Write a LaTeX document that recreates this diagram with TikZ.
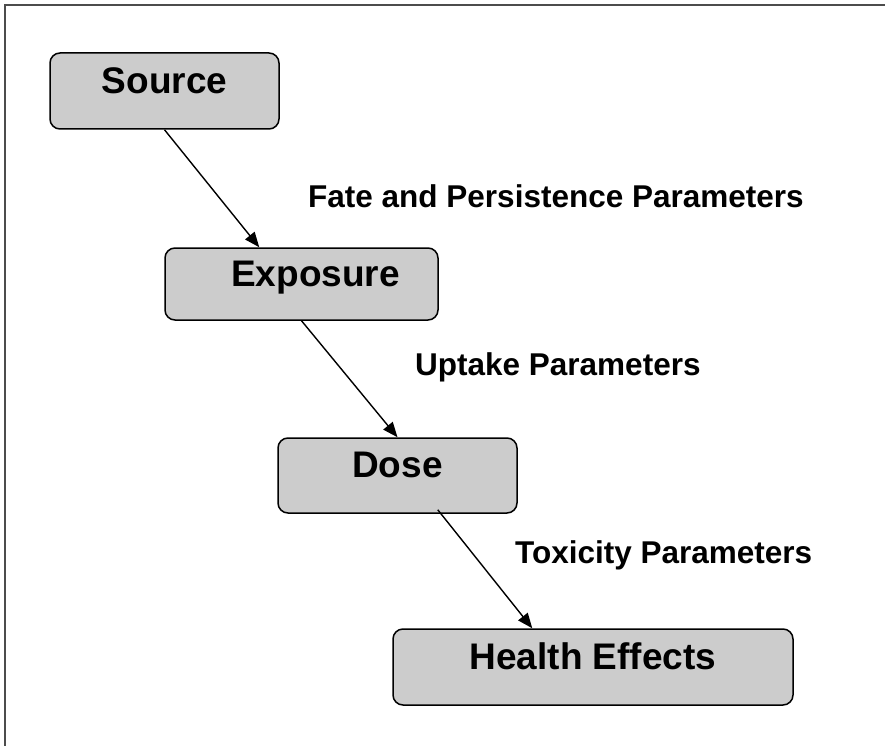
\documentclass[tikz,border=0pt]{standalone}
\usepackage{fontspec}
\setmainfont{Liberation Sans}
\usetikzlibrary{arrows.meta}
\tikzset{
  mbox/.style={rectangle, rounded corners=10pt, draw=black, fill=black!20,
               line width=1.5pt, inner sep=0pt, text height=27pt, text depth=22.5pt,
               font=\fontsize{37}{40}\selectfont\bfseries},
  lbl/.style={anchor=base west, inner sep=0pt,
              font=\fontsize{31.5}{34}\selectfont\bfseries},
  arr/.style={-{Triangle[length=15pt, width=12pt]}, line width=1.4pt},
}

\begin{document}
\begin{tikzpicture}[x=1pt, y=-1pt]
  \useasboundingbox (0,0) rectangle (885,746);

  % frame (top and left edges)
  \draw[line width=1.5pt, black!70] (885,5) -- (5,5) -- (5,746);

  % stages
  \node[mbox, minimum width=229pt, minimum height=76pt] (src) at (164.5,91) {Source};
  \node[mbox, minimum width=273pt, minimum height=72pt] (exp) at (301.5,284) {\hspace*{28pt}Exposure};
  \node[mbox, minimum width=239pt, minimum height=75pt] (dose) at (397.5,475.5) {Dose};
  \node[mbox, minimum width=400pt, minimum height=76pt] (hlth) at (593,667) {Health Effects};

  % links
  \draw[arr] (src.south) -- ([xshift=95pt]exp.north west);
  \draw[arr] (exp.south) -- (dose.north);
  \draw[arr] ([xshift=-80pt, yshift=4pt]dose.south east) -- ([xshift=140pt]hlth.north west);

  % parameter labels
  \node[lbl] (fate) at (308,207) {Fate and Persistence Parameters};
  \node[lbl] (upt) at (415,375) {Uptake Parameters};
  \node[lbl] (tox) at (515,563) {Toxicity Parameters};
\end{tikzpicture}
\end{document}
